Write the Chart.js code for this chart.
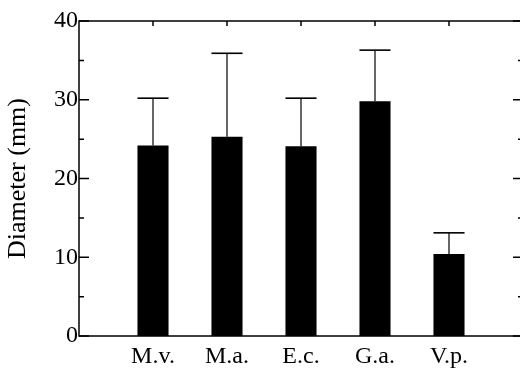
<!DOCTYPE html>
<html>
<head>
<meta charset="utf-8">
<script src="https://cdn.jsdelivr.net/npm/chart.js@4.4.0/dist/chart.umd.min.js"></script>
<style>
    html, body { margin: 0; padding: 0; background: #fff; overflow: hidden; }
    #wrap { width: 530px; height: 369px; }
</style>
</head>
<body>
<div id="wrap"><canvas id="diameterChart"></canvas></div>
<script>
// species and mean diameter (mm) with upper error
const species = ["M.v.", "M.a.", "E.c.", "G.a.", "V.p."];
const meanDiameter = [24.2, 25.3, 24.1, 29.8, 10.4];
const errDiameter = [6.0, 10.6, 6.1, 6.5, 2.7];
const yTicks = [0, 10, 20, 30, 40];

// empty slots on both ends so the bars sit one step in from the frame
const labels = [""].concat(species, [""]);
const values = [null].concat(meanDiameter, [null]);
const errors = [null].concat(errDiameter, [null]);

const serif = "'Liberation Serif', 'Times New Roman', serif";

const errorBars = {
    id: 'errorBars',
    afterDatasetsDraw(chart) {
        const ctx = chart.ctx;
        const yScale = chart.scales.y;
        const meta = chart.getDatasetMeta(0);
        ctx.save();
        ctx.strokeStyle = "#000";
        meta.data.forEach(function (bar, i) {
            if (values[i] == null) return;
            const top = yScale.getPixelForValue(values[i] + errors[i]);
            const half = bar.width / 2;
            ctx.lineWidth = 1.2;
            ctx.beginPath();
            ctx.moveTo(bar.x, bar.y);
            ctx.lineTo(bar.x, top);
            ctx.stroke();
            ctx.lineWidth = 1.6;
            ctx.beginPath();
            ctx.moveTo(bar.x - half, top);
            ctx.lineTo(bar.x + half, top);
            ctx.stroke();
        });
        ctx.restore();
    }
};

const frame = {
    id: 'frame',
    afterDraw(chart) {
        const ctx = chart.ctx;
        const a = chart.chartArea;
        const yScale = chart.scales.y;
        const xScale = chart.scales.x;
        ctx.save();
        ctx.strokeStyle = "#000";
        ctx.lineWidth = 1.5;
        ctx.strokeRect(a.left, a.top, a.right - a.left, a.bottom - a.top);
        // inward ticks, left and right
        for (let v = 0; v <= 40; v += 5) {
            const y = yScale.getPixelForValue(v);
            const len = v % 10 === 0 ? 10 : 5;
            ctx.beginPath();
            ctx.moveTo(a.left, y);
            ctx.lineTo(a.left + len, y);
            ctx.moveTo(a.right, y);
            ctx.lineTo(a.right - len, y);
            ctx.stroke();
        }
        // top ticks at the categories
        species.forEach(function (s, i) {
            const x = xScale.getPixelForValue(i + 1);
            ctx.beginPath();
            ctx.moveTo(x, a.top);
            ctx.lineTo(x, a.top + 5);
            ctx.stroke();
        });
        ctx.restore();
    }
};

const ctx1 = document.getElementById("diameterChart");

const myBarChart = new Chart(ctx1, {
    type: 'bar',
    data: {
        labels: labels,
        datasets: [{
            data: values,
            backgroundColor: "#000",
            borderWidth: 0,
            barPercentage: 0.42,
            categoryPercentage: 1.0
        }]
    },
    options: {
        responsive: true,
        maintainAspectRatio: false,
        animation: false,
        events: [],
        layout: { padding: { top: 21, right: 7, left: 0, bottom: 0 } },
        plugins: {
            legend: { display: false },
            tooltip: { enabled: false }
        },
        scales: {
            x: {
                offset: false,
                grid: { display: false, drawTicks: false },
                border: { display: false },
                ticks: {
                    color: "#000",
                    font: { family: serif, size: 24 },
                    padding: 6,
                    maxRotation: 0,
                    autoSkip: false
                },
                afterFit: function (scale) { scale.height = 33; }
            },
            y: {
                min: 0,
                max: 40,
                grid: { display: false, drawTicks: false },
                border: { display: false },
                afterBuildTicks: function (scale) {
                    scale.ticks = yTicks.map(function (v) { return { value: v }; });
                },
                ticks: {
                    color: "#000",
                    font: { family: serif, size: 24 },
                    padding: 1
                },
                title: {
                    display: true,
                    text: "Diameter (mm)",
                    color: "#000",
                    font: { family: serif, size: 26 },
                    padding: { top: 3, bottom: 0 }
                },
                afterFit: function (scale) { scale.width = 79; }
            }
        }
    },
    plugins: [errorBars, frame]
});
</script>
</body>
</html>
